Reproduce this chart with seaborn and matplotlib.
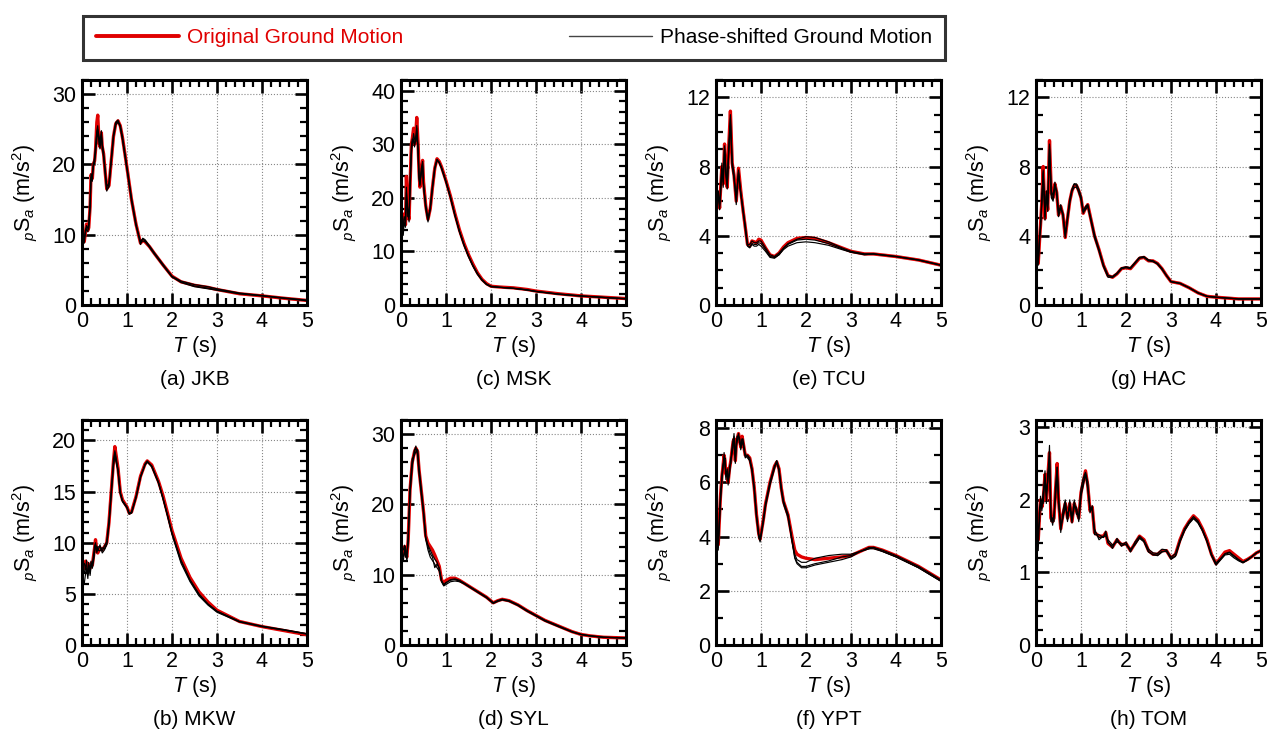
import matplotlib
matplotlib.use("Agg")
import matplotlib.pyplot as plt
import seaborn as sns
from matplotlib.ticker import MultipleLocator
from matplotlib.lines import Line2D
from matplotlib import font_manager

# ---------------- data ----------------
T_JKB = [0.05,0.08,0.1,0.13,0.15,0.18,0.2,0.23,0.25,0.28,0.3,0.33,0.35,0.38,0.4,0.43,0.45,0.48,0.5,0.55,
         0.6,0.65,0.7,0.75,0.8,0.85,0.9,1.0,1.1,1.2,1.3,1.35,1.4,1.5,1.6,1.8,2.0,2.2,2.5,2.8,3.0,3.5,4.0,4.5,5.0]
JKB_ORIG = [9.0,10.5,11.5,10.6,11.0,14.0,18.5,18.0,20.0,20.5,22.0,26.0,27.0,23.0,22.5,24.5,22.5,21.5,20.0,16.5,
            17.0,20.5,24.0,25.8,26.2,25.5,23.8,19.5,15.0,11.5,8.8,9.2,9.0,8.3,7.4,5.7,4.1,3.3,2.8,2.5,2.2,1.6,1.3,0.95,0.65]
JKB_PS1 = [9.3,10.8,11.0,11.0,11.5,14.5,18.0,18.5,19.5,21.0,22.5,24.5,25.0,24.0,23.0,24.8,23.0,21.0,19.8,16.2,
           17.2,20.8,24.2,26.0,26.3,25.4,23.5,19.3,14.8,11.3,9.0,9.4,9.1,8.2,7.3,5.6,4.0,3.2,2.6,2.3,2.1,1.6,1.3,0.95,0.6]
JKB_PS2 = [9.5,10.3,10.8,10.4,11.2,13.8,18.2,17.6,20.2,20.0,21.5,23.5,24.5,23.5,22.2,24.0,22.8,21.8,20.2,16.8,
           17.4,20.4,23.8,25.6,26.0,25.6,24.0,19.6,15.2,11.6,8.6,9.5,9.3,8.4,7.5,5.8,4.1,3.4,2.9,2.6,2.3,1.7,1.35,1.0,0.7]
JKB_PS3 = [8.8,10.6,11.3,10.9,10.8,14.2,18.7,18.2,19.8,20.8,22.2,24.8,25.5,22.8,22.8,24.3,22.2,21.2,19.9,16.4,
           16.8,20.6,24.1,25.9,26.1,25.3,23.6,19.4,15.0,11.4,8.9,9.1,9.0,8.3,7.4,5.7,4.0,3.3,2.7,2.4,2.2,1.6,1.3,0.95,0.65]

T_MSK = [0.05,0.07,0.1,0.12,0.15,0.18,0.2,0.23,0.25,0.28,0.3,0.33,0.35,0.38,0.4,0.42,0.45,0.48,0.5,0.55,
         0.6,0.65,0.7,0.75,0.8,0.85,0.9,1.0,1.1,1.2,1.3,1.4,1.5,1.6,1.7,1.8,1.9,2.0,2.2,2.5,2.8,3.0,3.5,4.0,4.5,5.0]
MSK_ORIG = [16.0,17.0,15.0,24.0,17.0,16.0,22.0,30.0,31.0,33.0,30.0,32.0,35.0,30.0,25.0,22.0,25.0,27.0,23.0,18.5,
            16.0,18.0,22.0,25.5,27.3,26.8,25.8,23.2,20.3,17.0,14.0,11.5,9.4,7.6,6.0,4.8,4.0,3.5,3.35,3.2,2.9,2.6,2.1,1.7,1.45,1.2]
MSK_PS1 = [14.0,16.0,16.5,20.0,18.0,17.0,21.0,28.0,30.5,31.0,29.5,31.0,32.0,29.0,24.0,23.0,24.5,26.0,22.5,18.0,
           15.5,18.2,22.2,25.6,27.2,26.6,25.6,23.0,20.0,16.6,13.6,11.1,9.0,7.2,5.7,4.6,3.8,3.4,3.3,3.1,2.8,2.5,2.0,1.65,1.4,1.15]
MSK_PS2 = [13.0,15.5,14.5,22.0,16.5,16.5,23.0,29.0,30.0,32.0,31.0,30.5,33.0,28.0,23.5,22.5,25.5,26.5,22.0,18.8,
           15.8,17.8,21.8,25.4,27.0,26.7,25.7,23.1,20.2,16.8,13.8,11.3,9.2,7.4,5.9,4.7,3.9,3.5,3.3,3.15,2.85,2.55,2.05,1.7,1.45,1.2]
MSK_PS3 = [15.0,16.5,15.5,21.0,17.5,15.5,22.5,29.5,31.0,30.5,30.0,31.5,33.5,29.5,24.5,22.2,24.8,26.8,22.8,18.3,
           16.2,18.1,22.1,25.5,27.1,26.5,25.5,22.9,20.0,16.7,13.7,11.2,9.1,7.3,5.8,4.7,3.9,3.45,3.3,3.1,2.8,2.55,2.05,1.7,1.4,1.15]

T_TCU = [0.05,0.08,0.1,0.13,0.16,0.19,0.22,0.25,0.28,0.32,0.36,0.4,0.45,0.5,0.55,0.6,0.65,0.7,0.75,0.8,
         0.85,0.9,0.95,1.0,1.1,1.2,1.3,1.4,1.5,1.6,1.8,2.0,2.2,2.5,2.8,3.0,3.3,3.5,4.0,4.5,5.0]
TCU_ORIG = [6.5,5.6,6.6,8.0,7.0,9.3,7.6,6.8,9.0,11.2,8.2,7.5,6.0,7.9,6.6,5.5,4.5,3.5,3.4,3.7,
            3.65,3.6,3.8,3.75,3.3,2.9,2.8,3.0,3.35,3.6,3.85,3.9,3.85,3.6,3.3,3.1,2.95,2.95,2.8,2.6,2.3]
TCU_PS1 = [6.2,5.8,6.3,7.8,7.3,9.0,7.8,7.0,8.7,10.5,8.0,7.3,6.2,7.6,6.4,5.6,4.4,3.4,3.3,3.5,
           3.4,3.4,3.5,3.4,3.1,2.75,2.7,2.9,3.25,3.5,3.75,3.8,3.75,3.55,3.25,3.05,2.9,2.95,2.8,2.6,2.3]
TCU_PS2 = [6.4,5.5,6.5,8.2,6.8,9.1,7.4,6.7,8.8,10.8,8.3,7.6,5.8,7.7,6.5,5.4,4.6,3.5,3.5,3.7,
           3.6,3.6,3.7,3.7,3.3,2.9,2.8,3.0,3.3,3.55,3.8,3.95,3.9,3.65,3.3,3.1,2.95,2.95,2.8,2.6,2.3]
TCU_PS3 = [6.6,5.7,6.7,7.9,7.1,9.2,7.7,6.9,8.9,11.0,8.1,7.4,6.1,7.8,6.5,5.5,4.5,3.45,3.35,3.55,
           3.5,3.5,3.6,3.55,3.2,2.8,2.75,2.9,3.2,3.4,3.6,3.65,3.6,3.45,3.2,3.05,2.95,2.95,2.8,2.6,2.3]

T_HAC = [0.05,0.08,0.1,0.13,0.16,0.2,0.23,0.26,0.3,0.34,0.38,0.42,0.46,0.5,0.55,0.6,0.65,0.7,0.75,0.8,
         0.85,0.9,0.95,1.0,1.05,1.1,1.15,1.2,1.3,1.4,1.5,1.6,1.7,1.8,1.9,2.0,2.1,2.2,2.3,2.4,
         2.5,2.6,2.7,2.8,2.9,3.0,3.2,3.4,3.6,3.8,4.0,4.5,5.0]
HAC_ORIG = [2.4,3.8,4.6,6.0,8.0,5.0,6.5,5.5,9.5,6.5,6.2,7.0,6.5,5.2,5.7,5.2,3.9,5.0,6.0,6.6,
            6.9,6.9,6.6,6.2,5.3,5.6,5.8,5.2,4.0,3.2,2.3,1.7,1.6,1.8,2.1,2.15,2.1,2.4,2.7,2.75,
            2.55,2.55,2.4,2.1,1.7,1.35,1.25,1.0,0.7,0.5,0.45,0.35,0.35]
HAC_PS1 = [2.6,4.0,4.4,6.2,7.6,5.3,6.3,5.8,9.0,6.2,6.0,6.9,6.6,5.4,5.6,5.3,4.1,5.1,6.1,6.7,
           7.0,6.9,6.5,6.1,5.4,5.5,5.7,5.1,3.9,3.1,2.2,1.6,1.6,1.8,2.1,2.2,2.15,2.45,2.75,2.8,
           2.6,2.55,2.35,2.05,1.7,1.35,1.25,1.0,0.7,0.5,0.45,0.35,0.35]
HAC_PS2 = [2.3,3.7,4.7,5.8,7.8,5.1,6.6,5.4,9.2,6.4,6.1,6.9,6.4,5.3,5.8,5.1,4.0,4.9,5.9,6.6,
           6.8,6.8,6.6,6.2,5.3,5.6,5.8,5.2,4.0,3.2,2.3,1.7,1.6,1.8,2.1,2.15,2.1,2.4,2.7,2.75,
           2.55,2.5,2.4,2.1,1.7,1.35,1.25,1.0,0.7,0.5,0.45,0.35,0.35]
HAC_PS3 = [2.5,3.9,4.5,6.1,7.7,4.9,6.4,5.6,9.3,6.6,6.3,7.1,6.5,5.1,5.6,5.2,3.9,5.0,6.0,6.6,
           7.0,7.0,6.7,6.3,5.4,5.7,5.8,5.2,4.1,3.2,2.3,1.7,1.65,1.85,2.15,2.2,2.15,2.45,2.75,2.75,
           2.6,2.55,2.4,2.1,1.7,1.35,1.25,1.0,0.7,0.5,0.45,0.35,0.35]

T_MKW = [0.05,0.08,0.1,0.13,0.15,0.18,0.2,0.23,0.25,0.28,0.3,0.33,0.35,0.4,0.45,0.5,0.55,0.6,0.65,0.7,
         0.73,0.76,0.8,0.85,0.9,1.0,1.05,1.1,1.2,1.3,1.4,1.45,1.55,1.7,1.8,1.9,2.0,2.2,2.4,2.6,
         2.8,3.0,3.5,4.0,4.5,5.0]
MKW_ORIG = [7.5,8.2,8.0,7.5,7.8,7.5,8.0,7.8,8.5,9.5,10.3,9.2,9.0,9.5,9.3,9.6,10.0,12.0,15.0,18.0,
            19.4,18.5,17.3,15.0,14.2,13.5,12.9,13.0,14.5,16.5,17.7,18.0,17.6,16.0,14.6,12.9,11.2,8.5,6.6,5.2,
            4.2,3.4,2.3,1.8,1.4,1.0]
MKW_PS1 = [6.0,7.0,7.5,6.5,7.8,7.0,8.2,7.5,8.0,9.0,9.8,9.5,9.2,9.8,9.0,9.3,9.8,11.8,14.8,17.5,
           18.5,17.8,17.0,14.8,14.0,13.4,12.8,12.9,14.4,16.4,17.6,17.9,17.5,15.9,14.4,12.7,11.0,8.3,6.4,5.0,
           4.0,3.3,2.3,1.8,1.45,1.05]
MKW_PS2 = [7.0,7.8,7.0,7.2,8.0,6.8,7.6,8.0,8.3,9.2,9.5,9.6,9.3,9.2,9.5,9.4,9.9,11.9,14.9,17.8,
           18.8,18.0,17.2,14.9,14.1,13.4,12.8,12.9,14.4,16.4,17.7,18.0,17.5,15.9,14.3,12.6,10.8,8.0,6.2,4.8,
           3.9,3.2,2.25,1.8,1.45,1.1]
MKW_PS3 = [8.0,7.4,8.3,6.8,7.2,7.8,7.8,7.9,8.6,9.7,10.0,9.0,9.6,9.6,9.2,9.7,10.1,12.1,15.1,18.2,
           19.0,18.3,17.1,14.9,14.1,13.5,12.9,13.0,14.5,16.5,17.6,17.9,17.4,15.8,14.3,12.7,10.9,8.2,6.3,4.9,
           4.0,3.3,2.3,1.85,1.5,1.1]

T_SYL = [0.05,0.08,0.1,0.13,0.16,0.2,0.25,0.3,0.33,0.37,0.4,0.45,0.5,0.55,0.6,0.65,0.7,0.75,0.8,0.85,
         0.9,0.95,1.0,1.1,1.2,1.3,1.4,1.5,1.7,1.9,2.05,2.15,2.25,2.4,2.6,2.8,3.0,3.2,3.5,3.8,
         4.0,4.2,4.5,5.0]
SYL_ORIG = [13.0,14.0,13.0,12.5,15.0,22.0,26.0,27.5,28.0,27.5,25.0,22.0,19.0,15.5,14.5,14.0,13.5,12.8,12.0,11.2,
            9.3,8.8,9.2,9.5,9.5,9.2,8.8,8.4,7.6,6.8,6.0,6.3,6.5,6.3,5.7,4.9,4.2,3.5,2.7,1.9,
            1.5,1.3,1.1,1.0]
SYL_PS1 = [12.5,13.5,14.0,12.0,15.5,21.5,25.5,27.5,28.3,27.0,24.5,21.5,18.8,15.0,13.5,12.5,12.0,11.5,11.0,10.5,
           9.0,8.4,8.6,9.0,9.1,9.0,8.7,8.3,7.5,6.7,5.9,6.2,6.4,6.2,5.6,4.8,4.1,3.4,2.6,1.85,
           1.5,1.3,1.1,1.0]
SYL_PS2 = [13.5,14.2,12.5,13.0,14.5,22.5,26.5,27.0,27.5,27.8,25.3,22.3,19.2,15.2,14.0,13.0,12.5,11.0,11.5,11.0,
           9.2,8.6,8.9,9.2,9.3,9.1,8.8,8.4,7.6,6.8,6.0,6.3,6.5,6.3,5.7,4.9,4.2,3.5,2.7,1.9,
           1.5,1.3,1.1,1.0]
SYL_PS3 = [12.0,13.2,13.5,12.2,15.2,21.8,25.8,27.8,27.8,27.2,24.8,21.8,18.9,15.3,14.2,13.5,12.8,12.2,11.8,10.8,
           9.1,8.5,8.8,9.3,9.4,9.2,8.8,8.4,7.6,6.8,6.0,6.3,6.5,6.3,5.7,4.9,4.2,3.5,2.7,1.9,
           1.5,1.3,1.1,1.0]

T_YPT = [0.05,0.08,0.1,0.13,0.15,0.18,0.2,0.22,0.25,0.27,0.3,0.33,0.35,0.38,0.4,0.43,0.45,0.47,0.5,0.53,
         0.55,0.58,0.6,0.65,0.7,0.75,0.8,0.85,0.9,0.95,0.98,1.05,1.1,1.15,1.2,1.25,1.3,1.35,1.4,1.45,
         1.5,1.6,1.7,1.75,1.8,1.9,2.0,2.2,2.5,2.8,3.0,3.2,3.4,3.5,3.7,4.0,4.5,5.0]
YPT_ORIG = [3.7,4.8,5.5,6.2,6.5,7.0,6.8,6.3,6.5,6.0,6.5,6.8,7.1,7.5,7.6,6.8,7.4,7.6,7.8,7.5,
            7.3,7.7,7.5,7.0,7.0,6.9,6.5,5.8,4.8,4.1,3.9,4.6,5.2,5.6,6.0,6.3,6.6,6.75,6.5,5.8,
            5.3,4.8,3.9,3.5,3.35,3.25,3.2,3.15,3.2,3.25,3.3,3.45,3.6,3.6,3.5,3.3,2.9,2.4]
YPT_PS1 = [3.5,4.6,5.3,6.0,6.6,6.8,6.9,6.2,6.3,6.1,6.3,6.9,7.0,7.3,7.8,6.9,7.3,7.5,7.7,7.6,
           7.2,7.5,7.4,7.0,6.9,6.8,6.4,5.7,4.7,4.0,3.8,4.5,5.1,5.5,5.9,6.2,6.5,6.8,6.4,5.7,
           5.2,4.7,3.7,3.2,3.0,2.85,2.85,2.95,3.05,3.15,3.25,3.45,3.55,3.55,3.45,3.25,2.85,2.35]
YPT_PS2 = [3.8,4.9,5.6,6.1,6.4,7.1,6.6,6.4,6.4,5.9,6.6,6.7,7.2,7.6,7.5,6.7,7.5,7.7,7.7,7.4,
           7.4,7.6,7.5,6.9,7.0,6.8,6.5,5.8,4.8,4.0,3.85,4.6,5.2,5.6,6.0,6.3,6.6,6.7,6.5,5.8,
           5.3,4.8,3.8,3.35,3.15,3.05,3.05,3.2,3.3,3.35,3.35,3.45,3.6,3.6,3.5,3.3,2.9,2.4]
YPT_PS3 = [3.6,4.7,5.4,6.3,6.5,6.9,6.8,6.1,6.5,6.0,6.4,6.8,7.1,7.4,7.7,6.8,7.4,7.6,7.8,7.5,
           7.3,7.6,7.6,7.0,7.0,6.9,6.5,5.8,4.8,4.1,3.9,4.6,5.2,5.6,6.0,6.3,6.6,6.8,6.5,5.8,
           5.3,4.8,3.75,3.25,3.05,2.9,2.9,3.0,3.1,3.25,3.3,3.45,3.55,3.6,3.45,3.25,2.85,2.35]

T_TOM = [0.05,0.08,0.1,0.13,0.16,0.2,0.23,0.26,0.3,0.33,0.37,0.4,0.43,0.47,0.5,0.55,0.6,0.65,0.7,0.75,
         0.8,0.85,0.9,0.95,1.0,1.05,1.1,1.15,1.2,1.25,1.3,1.4,1.5,1.55,1.6,1.7,1.8,1.9,2.0,2.1,
         2.2,2.3,2.4,2.5,2.6,2.7,2.8,2.9,3.0,3.1,3.2,3.3,3.4,3.5,3.6,3.7,3.8,3.9,4.0,4.1,
         4.2,4.3,4.4,4.5,4.6,4.7,4.8,4.9,5.0]
TOM_ORIG = [1.45,1.8,2.0,1.9,2.0,2.35,2.0,2.3,2.65,1.75,1.7,1.75,2.1,2.5,2.0,1.6,1.8,1.95,1.75,1.95,
            1.7,1.95,1.85,1.75,2.1,2.25,2.4,2.2,1.85,1.9,1.55,1.5,1.5,1.55,1.4,1.35,1.45,1.38,1.4,1.3,
            1.4,1.5,1.45,1.3,1.25,1.25,1.3,1.3,1.2,1.25,1.45,1.6,1.7,1.78,1.72,1.6,1.45,1.25,1.12,1.2,
            1.28,1.3,1.25,1.2,1.15,1.18,1.22,1.27,1.3]
TOM_PS1 = [1.3,1.9,1.95,2.0,1.95,2.3,2.1,2.25,2.75,1.8,1.65,1.8,2.0,2.4,2.05,1.55,1.85,2.0,1.7,2.0,
           1.75,1.9,1.9,1.7,2.05,2.2,2.35,2.15,1.9,1.85,1.6,1.45,1.5,1.5,1.45,1.38,1.42,1.4,1.38,1.32,
           1.38,1.47,1.42,1.28,1.25,1.23,1.28,1.3,1.18,1.22,1.42,1.57,1.67,1.74,1.68,1.57,1.42,1.23,1.1,1.17,
           1.24,1.25,1.2,1.16,1.13,1.17,1.22,1.27,1.3]
TOM_PS2 = [1.6,1.7,2.05,1.85,2.05,2.4,1.95,2.35,2.55,1.7,1.75,1.7,2.15,2.45,1.95,1.65,1.75,1.9,1.8,1.9,
           1.72,2.0,1.8,1.8,2.15,2.3,2.38,2.25,1.82,1.92,1.52,1.52,1.48,1.57,1.42,1.33,1.47,1.36,1.42,1.28,
           1.42,1.5,1.44,1.32,1.27,1.26,1.32,1.31,1.21,1.26,1.45,1.6,1.7,1.77,1.71,1.59,1.44,1.25,1.13,1.19,
           1.26,1.28,1.23,1.18,1.14,1.18,1.22,1.27,1.3]
TOM_PS3 = [1.4,1.85,1.9,1.95,2.1,2.3,2.05,2.25,2.6,1.78,1.72,1.78,2.05,2.45,2.02,1.6,1.78,1.97,1.72,1.93,
           1.68,1.93,1.87,1.73,2.08,2.23,2.37,2.18,1.87,1.88,1.57,1.48,1.49,1.53,1.41,1.36,1.44,1.37,1.39,1.3,
           1.39,1.48,1.43,1.29,1.24,1.24,1.29,1.29,1.19,1.23,1.43,1.58,1.68,1.75,1.69,1.58,1.43,1.24,1.11,1.18,
           1.25,1.27,1.22,1.17,1.14,1.17,1.22,1.27,1.3]

CAPTIONS = ["(a) JKB", "(c) MSK", "(e) TCU", "(g) HAC", "(b) MKW", "(d) SYL", "(f) YPT", "(h) TOM"]
Y_MAX = [32, 42, 13, 13, 22, 32, 8.3, 3.1]
Y_MAJOR = [10, 10, 4, 4, 5, 10, 2, 1]
Y_MINOR = [2, 2, 1, 1, 1, 2, 1, 0.2]
LEGEND_LABELS = ["Original Ground Motion", "Phase-shifted Ground Motion"]

# ---------------- style ----------------
sns.set_theme(style="white")
plt.rcParams["font.family"] = ["Liberation Sans", "DejaVu Sans"]
plt.rcParams["mathtext.fontset"] = "custom"
plt.rcParams["mathtext.rm"] = "Liberation Sans"
plt.rcParams["mathtext.it"] = "Liberation Sans:italic"
plt.rcParams["mathtext.bf"] = "Liberation Sans:bold"
for key in ["text.color", "axes.labelcolor", "xtick.color", "ytick.color", "axes.edgecolor"]:
    plt.rcParams[key] = "black"

installed = {f.name for f in font_manager.fontManager.ttflist}
LEGEND_FAMILY = ["Liberation Sans Narrow", "Liberation Sans"] if "Liberation Sans Narrow" in installed else ["Liberation Sans"]
LEGEND_SIZE = 17.5 if "Liberation Sans Narrow" in installed else 15

RED = "#e00000"
W, H = 1277, 738
fig = plt.figure(figsize=(W / 100, H / 100), dpi=100)
fig.patch.set_facecolor("white")

panels = [
    (T_JKB, JKB_ORIG, [JKB_PS1, JKB_PS2, JKB_PS3]),
    (T_MSK, MSK_ORIG, [MSK_PS1, MSK_PS2, MSK_PS3]),
    (T_TCU, TCU_ORIG, [TCU_PS1, TCU_PS2, TCU_PS3]),
    (T_HAC, HAC_ORIG, [HAC_PS1, HAC_PS2, HAC_PS3]),
    (T_MKW, MKW_ORIG, [MKW_PS1, MKW_PS2, MKW_PS3]),
    (T_SYL, SYL_ORIG, [SYL_PS1, SYL_PS2, SYL_PS3]),
    (T_YPT, YPT_ORIG, [YPT_PS1, YPT_PS2, YPT_PS3]),
    (T_TOM, TOM_ORIG, [TOM_PS1, TOM_PS2, TOM_PS3]),
]

col_left_px = [82, 401, 716, 1036]
row_top_px = [80, 420]
AX_W, AX_H = 225, 225

for i, (T, orig, pss) in enumerate(panels):
    r, c = divmod(i, 4)
    left = col_left_px[c] / W
    bottom = 1 - (row_top_px[r] + AX_H) / H
    ax = fig.add_axes([left, bottom, AX_W / W, AX_H / H])
    sns.lineplot(x=T, y=orig, ax=ax, color=RED, lw=2.4, zorder=3, legend=False)
    for ps in pss:
        sns.lineplot(x=T, y=ps, ax=ax, color="black", lw=0.85, zorder=4, legend=False)
    ax.set_xlim(0, 5)
    ax.set_ylim(0, Y_MAX[i])
    ax.xaxis.set_major_locator(MultipleLocator(1))
    ax.xaxis.set_minor_locator(MultipleLocator(0.2))
    ax.yaxis.set_major_locator(MultipleLocator(Y_MAJOR[i]))
    ax.yaxis.set_minor_locator(MultipleLocator(Y_MINOR[i]))
    ax.tick_params(which="both", direction="in", top=True, right=True,
                   bottom=True, left=True, colors="black")
    ax.tick_params(which="major", length=9, width=1.9, labelsize=15.5, pad=4)
    ax.tick_params(which="minor", length=5, width=1.6)
    for s in ax.spines.values():
        s.set_linewidth(2.2)
        s.set_color("black")
        s.set_zorder(6)
    ax.grid(True, which="major", color="#888888", linestyle=":", linewidth=0.8)
    ax.set_axisbelow(True)
    ax.set_xlabel(r"$T$ (s)", fontsize=15.5, labelpad=2, color="black")
    ax.set_ylabel(r"${}_{p}\mathrm{S}_{a}$ (m/s$^2$)", fontsize=15.5, color="black")
    ax.yaxis.set_label_coords(-0.19, 0.5)
    ax.text(0.5, -0.33, CAPTIONS[i], transform=ax.transAxes, ha="center",
            va="center", fontsize=15, color="black")

handles = [Line2D([], [], color=RED, lw=2.8), Line2D([], [], color="#444444", lw=1.0)]
leg = fig.legend(handles, LEGEND_LABELS, loc="center",
                 bbox_to_anchor=(83 / W, 1 - 65 / H, (945 - 83) / W, 55 / H),
                 mode="expand", ncol=2, handlelength=4.0,
                 prop={"family": LEGEND_FAMILY, "size": LEGEND_SIZE},
                 handletextpad=0.4, borderpad=0.6, borderaxespad=0.0,
                 frameon=True, fancybox=False, edgecolor="black")
leg.get_frame().set_linewidth(2.2)
leg.get_texts()[0].set_color(RED)
leg.get_texts()[1].set_color("black")

fig.savefig("out.png", dpi=100, facecolor="white")
